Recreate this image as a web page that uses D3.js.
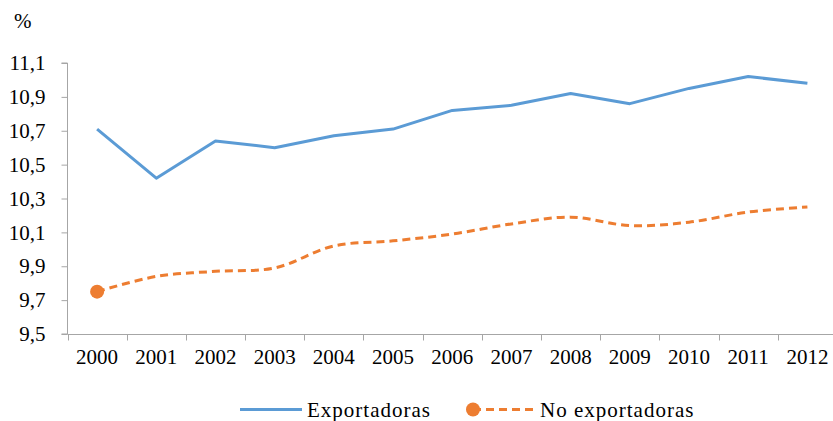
<!DOCTYPE html>
<html>
<head>
<meta charset="utf-8">
<script src="https://cdn.jsdelivr.net/npm/d3@7"></script>
<style>
  body { margin: 0; background: #fff; }
</style>
</head>
<body>
<script>
var years = ["2000","2001","2002","2003","2004","2005","2006","2007","2008","2009","2010","2011","2012"];
var exportadoras = [10.71, 10.42, 10.64, 10.60, 10.67, 10.71, 10.82, 10.85, 10.92, 10.86, 10.95, 11.02, 10.98];
var noExportadoras = [9.75, 9.84, 9.87, 9.89, 10.02, 10.05, 10.09, 10.15, 10.19, 10.14, 10.16, 10.22, 10.25];
var yTicks = [9.5, 9.7, 9.9, 10.1, 10.3, 10.5, 10.7, 10.9, 11.1];

var width = 833, height = 421;
var blue = "#5b9bd5", orange = "#ed7d31", grey = "#a6a6a6";
var font = "'Liberation Serif'";
var fsize = "21px";

var svg = d3.select("body").append("svg").attr("width", width).attr("height", height);

var x = d3.scaleBand().domain(years).range([67.5, 837]);
var y = d3.scaleLinear().domain([9.5, 11.1]).range([334, 63]);
var cx = function(d, i) { return x(years[i]) + x.bandwidth() / 2; };

// y axis
var yAxis = svg.append("g").attr("transform", "translate(67.5,0)")
    .call(d3.axisLeft(y).tickValues(yTicks).tickSize(6).tickPadding(16)
        .tickFormat(function(d){ return d3.format(".1f")(d).replace(".", ","); }));
yAxis.select(".domain").attr("d", "M-6," + y(11.1) + "H0V" + y(9.5) + "H-6");

// x axis: labels in the middle, ticks on the boundaries
var xAxis = svg.append("g").attr("transform", "translate(0,334.5)")
    .call(d3.axisBottom(x).tickSize(0).tickPadding(15));
xAxis.select(".domain").attr("d", "M67.5,0H837");
xAxis.selectAll(".bound")
    .data(years)
    .enter().append("line")
        .attr("x1", function(d){ return Math.round(x(d)) + 0.5; })
        .attr("x2", function(d){ return Math.round(x(d)) + 0.5; })
        .attr("y1", 0).attr("y2", 6);

svg.selectAll("g path.domain, g line").attr("stroke", grey);
svg.selectAll("g text").style("font-family", font).style("font-size", fsize).attr("fill", "#000");

svg.append("text").attr("x", 14).attr("y", 28)
    .style("font-family", font).style("font-size", fsize).text("%");

// series
var lineStraight = d3.line().x(cx).y(function(d){ return y(d); });
var lineSmooth = d3.line().x(cx).y(function(d){ return y(d); }).curve(d3.curveCatmullRom.alpha(0.5));

svg.append("path").datum(exportadoras)
    .attr("d", lineStraight)
    .attr("fill", "none").attr("stroke", blue).attr("stroke-width", 3)
    .attr("stroke-linejoin", "round");

svg.append("path").datum(noExportadoras)
    .attr("d", lineSmooth)
    .attr("fill", "none").attr("stroke", orange).attr("stroke-width", 3)
    .attr("stroke-dasharray", "8,5");

svg.append("circle")
    .attr("cx", cx(noExportadoras[0], 0))
    .attr("cy", y(noExportadoras[0]))
    .attr("r", 7).attr("fill", orange);

// legend
var lg = svg.append("g");
lg.append("line").attr("x1", 240).attr("x2", 302).attr("y1", 409.5).attr("y2", 409.5)
    .attr("stroke", blue).attr("stroke-width", 3);
lg.append("text").attr("x", 307).attr("y", 417).text("Exportadoras");
lg.append("line").attr("x1", 473).attr("x2", 536).attr("y1", 409.5).attr("y2", 409.5)
    .attr("stroke", orange).attr("stroke-width", 3).attr("stroke-dasharray", "8,5");
lg.append("circle").attr("cx", 473).attr("cy", 409.5).attr("r", 7).attr("fill", orange);
lg.append("text").attr("x", 540).attr("y", 417).text("No exportadoras");
lg.selectAll("text").style("font-family", font).style("font-size", fsize)
    .style("letter-spacing", "1px").attr("fill", "#000");
</script>
</body>
</html>
